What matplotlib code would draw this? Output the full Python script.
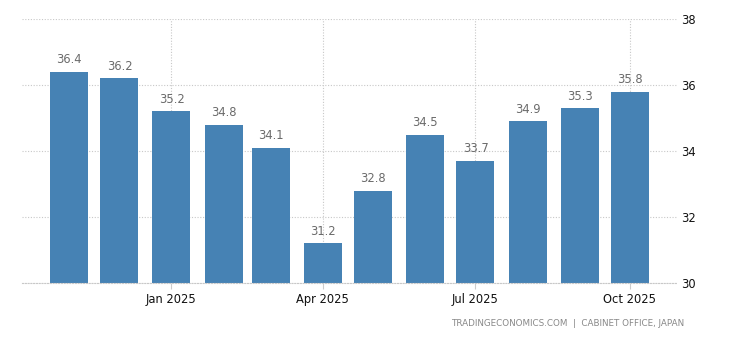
import matplotlib
matplotlib.use("Agg")
import matplotlib.pyplot as plt
import pandas as pd

months = pd.date_range("2024-11-01", "2025-10-01", freq="MS")
values = [36.4, 36.2, 35.2, 34.8, 34.1, 31.2, 32.8, 34.5, 33.7, 34.9, 35.3, 35.8]
tick_dates = pd.to_datetime(["2025-01-01", "2025-04-01", "2025-07-01", "2025-10-01"])
tick_labels = ["Jan 2025", "Apr 2025", "Jul 2025", "Oct 2025"]
y_ticks = [30, 32, 34, 36, 38]

plt.rcParams["font.family"] = ["DejaVu Sans"]
fig = plt.figure(figsize=(7.3, 3.4), dpi=100)
ax = fig.add_axes([22 / 730, 1 - 283 / 340, (677 - 22) / 730, (283 - 19) / 340])

ax.bar(months, values, width=22.6, color="#4682b4", zorder=2)
for d, v in zip(months, values):
    ax.annotate(f"{v}", (d, v), xytext=(0, 4), textcoords="offset points",
                ha="center", va="bottom", fontsize=8.3, color="#6a6a6a")

ax.set_ylim(30, 38)
ax.set_xlim(pd.Timestamp("2024-10-04"), pd.Timestamp("2025-10-29"))
ax.set_yticks(y_ticks)
ax.yaxis.tick_right()
ax.tick_params(axis="y", length=0, pad=3, labelsize=8.3, labelcolor="#111111")
ax.set_xticks(tick_dates)
ax.set_xticklabels(tick_labels)
ax.tick_params(axis="x", length=4, color="#cccccc", pad=3, labelsize=8.3, labelcolor="#111111")

ax.grid(True, axis="both", linestyle=(0, (1, 1.5)), color="#c8c8c8", linewidth=0.8, zorder=0)
for s in ["top", "left", "right"]:
    ax.spines[s].set_visible(False)
ax.spines["bottom"].set_linestyle((0, (1, 1.5)))
ax.spines["bottom"].set_color("#c8c8c8")
ax.spines["bottom"].set_linewidth(0.8)

fig.text(684 / 730, 1 - 324 / 340, "TRADINGECONOMICS.COM  |  CABINET OFFICE, JAPAN",
         ha="right", va="center", fontsize=6.3, color="#888888")

fig.savefig("out.png", dpi=100)
